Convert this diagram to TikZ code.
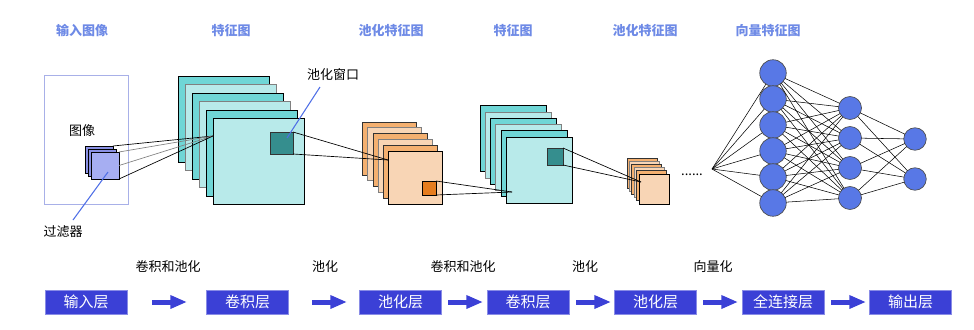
\documentclass[tikz,border=0pt]{standalone}
\usepackage{fontspec}
\setmainfont{Noto Sans CJK SC}
\usetikzlibrary{arrows.meta}
\definecolor{tdark}{HTML}{6FD6D6}
\definecolor{tlight}{HTML}{B8EAEA}
\definecolor{odark}{HTML}{F4B070}
\definecolor{olight}{HTML}{F8D5B5}
\definecolor{fdark}{HTML}{8A91E4}
\definecolor{flight}{HTML}{A6AEF2}
\definecolor{pwteal}{HTML}{358E8E}
\definecolor{pworange}{HTML}{E57C1E}
\definecolor{neuron}{HTML}{5878E6}
\definecolor{boxblue}{HTML}{3B40D6}
\definecolor{titleblue}{HTML}{6E8AE6}
\definecolor{pointer}{HTML}{4F6FE6}
\definecolor{inborder}{HTML}{A8B0E8}
\newcommand\lay[6]{\node[lay,#6,minimum width=#4*0.75pt,minimum height=#5*0.75pt] (#1) at (#2,#3) {};}
\tikzset{
  lay/.style={rectangle,inner sep=0pt,outer sep=0pt,anchor=north west,line width=0.6pt},
  td/.style={fill=tdark,draw=black},
  tl/.style={fill=tlight,draw=gray},
  tf/.style={fill=tlight,draw=black},
  od/.style={fill=odark,draw=black!80},
  ol/.style={fill=olight,draw=gray},
  of/.style={fill=olight,draw=black},
  title/.style={text=titleblue,font=\bfseries\fontsize{9.75}{11}\selectfont},
  lbl/.style={text=black,font=\fontsize{9.75}{11}\selectfont,inner sep=0pt},
  ptr/.style={draw=pointer,line width=0.8pt},
  link/.style={draw=black,line width=0.5pt},
  glink/.style={draw=gray,line width=0.5pt},
  nn/.style={circle,fill=neuron,draw=black!70,line width=0.5pt,inner sep=0pt,outer sep=0pt},
  edge/.style={draw=black,line width=0.4pt},
  flowbox/.style={rectangle,fill=boxblue,draw=boxblue!60!white,line width=0.5pt,text=white,
    minimum width=82*0.75pt,minimum height=24*0.75pt,inner sep=0pt,font=\fontsize{11.25}{12}\selectfont},
  flowarrow/.style={draw=boxblue,line width=3.75pt,-{Triangle[length=12.5pt,width=9.5pt]}}
}
\begin{document}
\begin{tikzpicture}[x=0.75pt,y=-0.75pt]
\useasboundingbox (0,0) rectangle (974,329);
% titles
\node[title] (t1) at (82,31) {输入图像};
\node[title] (t2) at (231,31) {特征图};
\node[title] (t3) at (391,31) {池化特征图};
\node[title] (t4) at (513,31) {特征图};
\node[title] (t5) at (645,31) {池化特征图};
\node[title] (t6) at (768,31) {向量特征图};
% input image
\lay{img}{44}{75}{84}{129}{draw=inborder}
\node[lbl] (imglbl) at (82,131) {图像};
\lay{fa}{85}{146}{28}{27}{fill=fdark,draw=black}
\lay{fb}{88}{149}{28}{27}{fill=fdark,draw=black}
\lay{fc}{91}{152}{28}{27}{fill=flight,draw=black}
\node[lbl] (filtlbl) at (63,232) {过滤器};
\coordinate (filtptr) at (73,220);
\coordinate (filtin) at (108,172);
\draw[ptr] (filtptr) -- (filtin);
% feature map 1
\lay{m1}{178}{76}{91}{86}{td}
\lay{m2}{185}{84}{91}{86}{tl}
\lay{m3}{192}{93}{91}{86}{td}
\lay{m4}{199}{101}{91}{86}{tl}
\lay{m5}{206}{110}{91}{86}{td}
\lay{m6}{213}{118}{91}{86}{tf}
\coordinate (m6in) at (213,136);
\draw[link] (fa.north east) -- (m6in);
\draw[glink] (fc.north east) -- (m6in);
\draw[glink] (fc.east) -- (m6in);
\draw[link] (fc.south east) -- (m6in);
\lay{pw1}{270}{132}{23}{22}{fill=pwteal,draw=black!80}
\node[lbl] (pwlbl) at (333,75) {池化窗口};
\coordinate (pwptr) at (320,87);
\coordinate (pwin) at (287,138);
\draw[ptr] (pwptr) -- (pwin);
% pooled map 1
\lay{p1}{362}{122}{54}{53}{od}
\lay{p2}{367}{127}{54}{53}{ol}
\lay{p3}{373}{133}{54}{53}{od}
\lay{p4}{378}{139}{54}{53}{ol}
\lay{p5}{383}{145}{54}{53}{od}
\coordinate (p6in) at (388,160);
\draw[link] (pw1.north east) -- (p6in);
\draw[link] (pw1.south east) -- (p6in);
\lay{p6}{388}{151}{54}{53}{of}
\lay{pw2}{422}{181}{14}{14}{fill=pworange,draw=black}
% feature map 2
\lay{n1}{480}{105}{66}{66}{td}
\lay{n2}{485}{112}{66}{66}{tl}
\lay{n3}{490}{118}{66}{66}{td}
\lay{n4}{495}{124}{66}{66}{tl}
\lay{n5}{501}{130}{66}{66}{td}
\lay{n6}{506}{137}{66}{66}{tf}
\coordinate (n6in) at (512,192);
\draw[link] (pw2.north east) -- (n6in);
\draw[link] (pw2.south east) -- (n6in);
\lay{pw3}{547}{148}{16}{17}{fill=pwteal,draw=black!80}
% pooled map 2
\lay{q1}{627}{158}{30}{30}{od}
\lay{q2}{629.4}{161.2}{30}{30}{ol}
\lay{q3}{631.8}{164.4}{30}{30}{od}
\lay{q4}{634.2}{167.6}{30}{30}{ol}
\lay{q5}{636.6}{170.8}{30}{30}{od}
\lay{q6}{639}{174}{30}{30}{of}
\coordinate (q6in) at (641,182);
\draw[link] (pw3.north east) -- (q6in);
\draw[link] (pw3.south east) -- (q6in);
\node[lbl,anchor=base] (dots) at (692,175) {......};
% network
\coordinate (hub) at (712,169);
\foreach \i/\y in {1/73,2/99,3/125,4/151,5/177,6/203}
  \node[nn,minimum size=26.5*0.75pt] (a\i) at (773,\y) {};
\foreach \i/\y in {1/108,2/138,3/168,4/198}
  \node[nn,minimum size=23*0.75pt] (b\i) at (850,\y) {};
\foreach \i/\y in {1/139,2/179}
  \node[nn,minimum size=22.5*0.75pt] (c\i) at (915,\y) {};
\foreach \i in {1,...,6} \draw[edge] (hub) -- (a\i);
\foreach \i in {1,...,6} \foreach \j in {1,...,4} \draw[edge] (a\i) -- (b\j);
\foreach \i in {1,...,4} \foreach \j in {1,2} \draw[edge] (b\i) -- (c\j);
% bottom flow
\node[flowbox] (s1) at (86,302) {输入层};
\node[flowbox] (s2) at (247.5,302) {卷积层};
\node[flowbox] (s3) at (400.5,302) {池化层};
\node[flowbox] (s4) at (528,302) {卷积层};
\node[flowbox] (s5) at (655.5,302) {池化层};
\node[flowbox] (s6) at (783,302) {全连接层};
\node[flowbox] (s7) at (910.5,302) {输出层};
\coordinate (r1a) at (152,302); \coordinate (r1b) at (187,302);
\coordinate (r2a) at (312,302); \coordinate (r2b) at (347,302);
\coordinate (r3a) at (448,302); \coordinate (r3b) at (483,302);
\coordinate (r4a) at (576,302); \coordinate (r4b) at (611,302);
\coordinate (r5a) at (703,302); \coordinate (r5b) at (738,302);
\coordinate (r6a) at (831,302); \coordinate (r6b) at (866,302);
\foreach \k in {1,...,6} \draw[flowarrow] (r\k a) -- (r\k b);
\node[lbl] (l1) at (168,267) {卷积和池化};
\node[lbl] (l2) at (325,267) {池化};
\node[lbl] (l3) at (463,267) {卷积和池化};
\node[lbl] (l4) at (585,267) {池化};
\node[lbl] (l5) at (713,267) {向量化};
\end{tikzpicture}
\end{document}
